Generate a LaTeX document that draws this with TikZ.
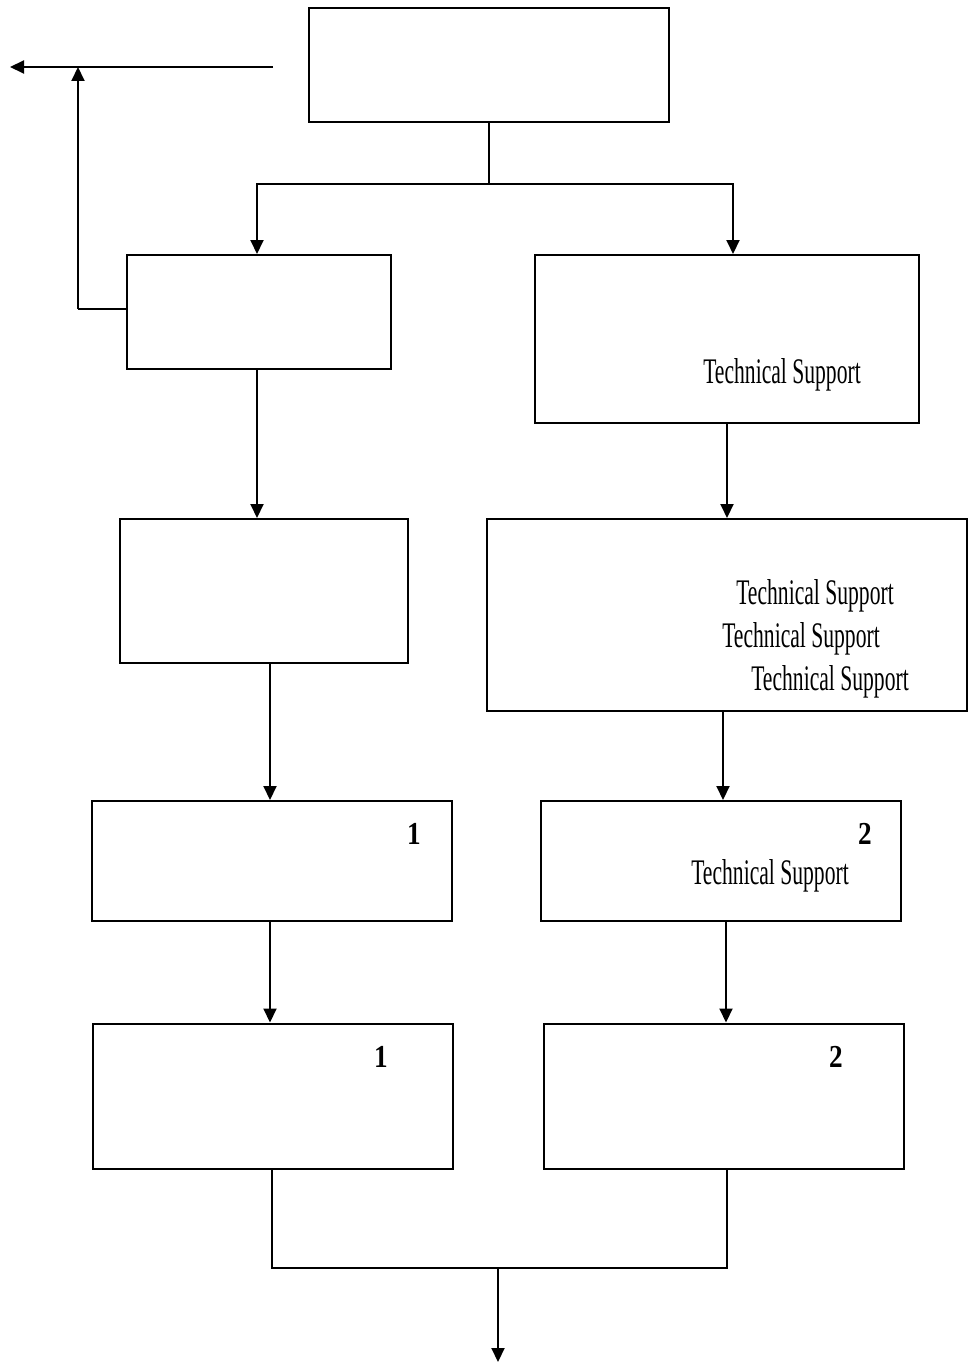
\documentclass[tikz,border=0pt]{standalone}
\usepackage{fontspec}
\setmainfont{Liberation Serif}
\newfontfamily\narrowfont[FakeStretch=0.6]{Liberation Serif}
\newfontfamily\digitfont[FakeStretch=0.85]{Liberation Serif}
\usetikzlibrary{arrows.meta}
\begin{document}
\begin{tikzpicture}[x=1pt,y=-1pt,
  box/.style={draw,line width=2pt,inner sep=0pt,minimum width=#1},
  line/.style={line width=2pt},
  arr/.style={line width=2pt,-{Triangle[length=14pt,width=13pt]}},
  ts/.style={inner sep=0pt,font=\narrowfont\fontsize{36}{42}\selectfont},
  num/.style={inner sep=0pt,font=\digitfont\bfseries\fontsize{32}{38}\selectfont}]
\useasboundingbox (0,0) rectangle (968,1367);

% boxes
\node[box=360pt,minimum height=114pt] (top) at (489,65) {};
\node[box=264pt,minimum height=114pt] (b1) at (259,312) {};
\node[box=384pt,minimum height=168pt] (c1) at (727,339) {};
\node[box=288pt,minimum height=144pt] (b2) at (264,591) {};
\node[box=480pt,minimum height=192pt] (c2) at (727,615) {};
\node[box=360pt,minimum height=120pt] (b3) at (272,861) {};
\node[box=360pt,minimum height=120pt] (c3) at (721,861) {};
\node[box=360pt,minimum height=145pt] (b4) at (273,1096) {};
\node[box=360pt,minimum height=145pt] (c4) at (724,1096) {};

% texts
\node[ts] (c1t) at (782,375) {Technical Support};
\node[ts] (c2t1) at (815,596) {Technical Support};
\node[ts] (c2t2) at (801,639) {Technical Support};
\node[ts] (c2t3) at (830,682) {Technical Support};
\node[num] (b3n) at (414,834) {1};
\node[num] (c3n) at (865,834) {2};
\node[ts] (c3t) at (770,876) {Technical Support};
\node[num] (b4n) at (381,1057) {1};
\node[num] (c4n) at (836,1057) {2};

% split below the top box
\coordinate (j1) at (489,184);
\draw[line] (top.south) -- (j1);
\draw[arr] (j1) -| ([xshift=-2pt]b1.north);
\draw[arr] (j1) -| ([xshift=6pt]c1.north);

% feedback path and outgoing arrow
\coordinate (fb) at (78,309);
\coordinate (outR) at (273,67);
\coordinate (outL) at (10,67);
\draw[arr] (outR) -- (outL);
\draw[line] (b1.west |- fb) -- (fb);
\draw[arr] (fb) -- (fb |- outR);

% vertical chains
\draw[arr] ([xshift=-2pt]b1.south) -- ([xshift=-2pt]b1.south |- b2.north);
\draw[arr] (c1.south) -- (c1.south |- c2.north);
\draw[arr] ([xshift=6pt]b2.south) -- ([xshift=6pt]b2.south |- b3.north);
\draw[arr] ([xshift=-4pt]c2.south) -- ([xshift=-4pt]c2.south |- c3.north);
\draw[arr] ([xshift=-2pt]b3.south) -- ([xshift=-2pt]b3.south |- b4.north);
\draw[arr] ([xshift=5pt]c3.south) -- ([xshift=5pt]c3.south |- c4.north);

% merge and final output
\coordinate (m) at (498,1268);
\coordinate (end) at (498,1362);
\draw[line] ([xshift=-1pt]b4.south) |- (m) -| ([xshift=3pt]c4.south);
\draw[arr] (m) -- (end);
\end{tikzpicture}
\end{document}
